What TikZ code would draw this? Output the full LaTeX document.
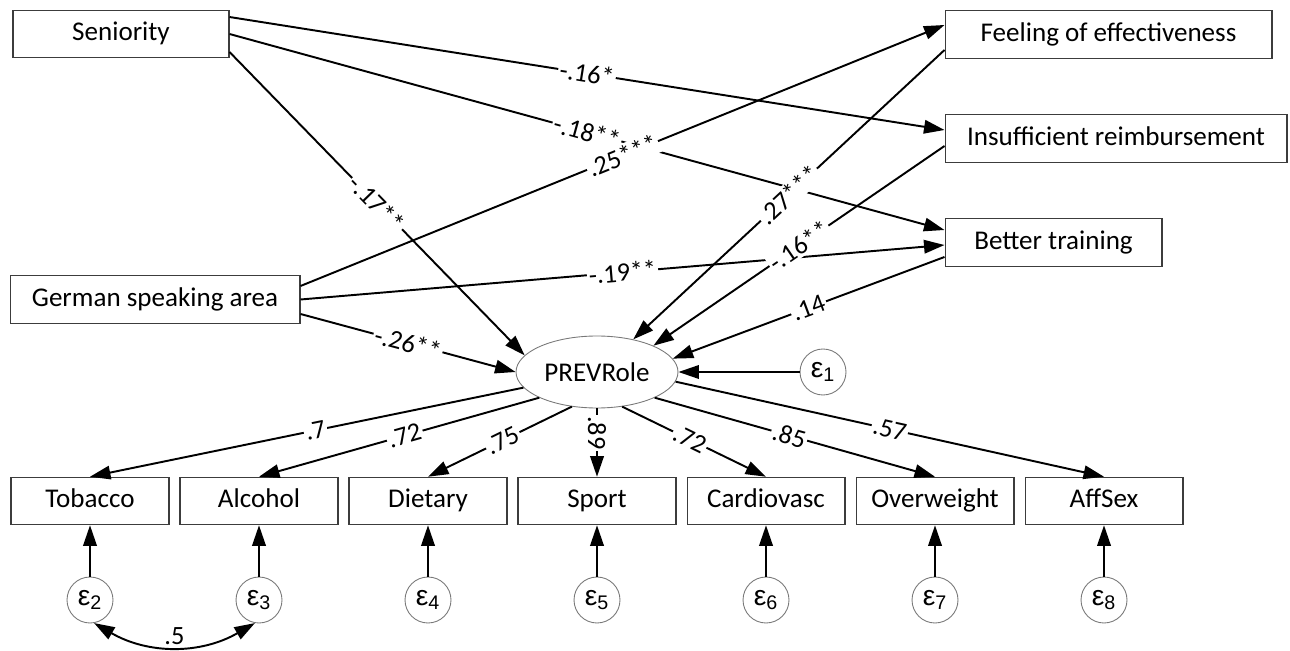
\documentclass[tikz,border=0pt]{standalone}
\usepackage{fontspec}
\setmainfont{Carlito}
\newfontfamily\epsfont{Liberation Sans}
\usetikzlibrary{arrows.meta,calc,shapes.geometric}
\definecolor{bc}{RGB}{60,60,60}
\definecolor{ec}{RGB}{120,120,120}
\tikzset{obs/.style={draw=bc,line width=.6pt,minimum height=.95cm,inner sep=0pt,text height=11pt,text depth=3.5pt,font=\fontsize{15.4}{18}\selectfont},
 lat/.style={draw=ec,line width=.5pt,ellipse,minimum width=3.24cm,minimum height=1.44cm,inner sep=0pt,font=\fontsize{15.4}{18}\selectfont},
 err/.style={draw=ec,line width=.5pt,circle,minimum size=.92cm,inner sep=0pt,font=\epsfont\fontsize{16}{18}\selectfont},
 arr/.style={-{Triangle[length=4.1mm,width=2.7mm]},line width=1.1pt},
 cov/.style={{Triangle[length=4.1mm,width=2.7mm]}-{Triangle[length=4.1mm,width=2.7mm]},line width=1.1pt},
 lbl/.style={fill=white,inner sep=1pt,font=\fontsize{15}{17}\selectfont,sloped},
 lblv/.style={fill=white,inner sep=1pt,font=\fontsize{15}{17}\selectfont,rotate=-90}}

\begin{document}
\begin{tikzpicture}[x=.02cm,y=-.02cm]
\useasboundingbox (0,0) rectangle (1290,651);
% exogenous and mediators
\node[obs,minimum width=4.32cm] (sen) at (121,34) {Seniority};
\node[obs,minimum width=5.8cm] (ger) at (155,299.5) {German speaking area};
\node[obs,minimum width=6.54cm] (feel) at (1108.5,34.5) {Feeling of effectiveness};
\node[obs,minimum width=6.84cm] (insuf) at (1116,138.5) {Insufficient reimbursement};
\node[obs,minimum width=4.34cm] (train) at (1053.5,242.5) {Better training};
% latent
\node[lat] (prev) at (597,372) {PREVRole};
\node[err] (e1) at (823,372) {ε\textsubscript{1}};
\draw[arr] (e1)--(prev.east);
% indicators
\foreach \n/\t [count=\i] in {tob/Tobacco,alc/Alcohol,diet/Dietary,spo/Sport,card/Cardiovasc,over/Overweight,aff/AffSex}{
 \pgfmathtruncatemacro{\j}{\i+1}
 \node[obs,minimum width=3.16cm] (\n) at ({90+169*(\i-1)},501) {\t};
 \node[err] (e\j) at ({90+169*(\i-1)},600) {ε\textsubscript{\j}};
 \draw[arr] (e\j)--(\n);
}
% structural paths
\draw[arr] ([yshift=.34cm]sen.east)--node[lbl]{-.16*}([yshift=.17cm]insuf.west);
\draw[arr] (sen.east)--node[lbl]{-.18**}([yshift=.25cm]train.west);
\draw[arr] ([yshift=-.36cm]sen.east)--node[lbl]{-.17**}(prev.167);
\draw[arr] ([yshift=.27cm]ger.east)--node[lbl]{.25***}([yshift=.19cm]feel.west);
\draw[arr] (ger.east)--node[lbl]{-.19**}([yshift=-.05cm]train.west);
\draw[arr] ([yshift=-.29cm]ger.east)--node[lbl]{-.26**}(prev.west);
\draw[arr] ([yshift=-.31cm]feel.west)--node[lbl]{.27***}(prev.42);
\draw[arr] ([yshift=-.15cm]insuf.west)--node[lbl]{-.16**}(prev.25);
\draw[arr] ([yshift=-.29cm]train.west)--node[lbl]{.14}(prev.10);
% loadings
\draw[arr] (prev.192)--node[lbl,pos=.48]{.7}(tob.north);
\draw[arr] (prev.204)--node[lbl,pos=.48]{.72}(alc.north);
\draw[arr] (prev.234)--node[lbl,pos=.48]{.75}(diet.north);
\draw[arr] (prev.south)--node[lblv,pos=.36]{.89}(spo.north);
\draw[arr] (prev.306)--node[lbl,pos=.47]{.72}(card.north);
\draw[arr] (prev.336)--node[lbl,pos=.48]{.85}(over.north);
\draw[arr] (prev.353)--node[lbl,pos=.5]{.57}(aff.north);
\draw[cov] (e2.-80) to[bend right=30] node[fill=white,inner sep=1pt,yshift=.2cm,font=\fontsize{15}{17}\selectfont]{.5} (e3.-100);
\end{tikzpicture}
\end{document}
